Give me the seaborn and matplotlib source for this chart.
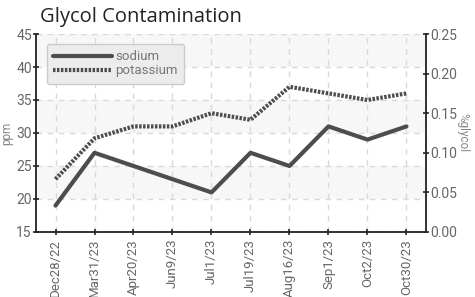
import matplotlib
matplotlib.use("Agg")
import matplotlib.pyplot as plt
import seaborn as sns
import pandas as pd
import numpy as np

dates = ["Dec28/22", "Mar31/23", "Apr20/23", "Jun9/23", "Jul1/23", "Jul19/23",
         "Aug16/23", "Sep1/23", "Oct2/23", "Oct30/23"]
sodium = [19, 27, 25, 23, 21, 27, 25, 31, 29, 31]
potassium = [23, 29.2, 31, 31, 33, 32, 37, 36, 35, 36]
left_ticks = [15, 20, 25, 30, 35, 40, 45]
right_ticks = [0.00, 0.05, 0.10, 0.15, 0.20, 0.25]

sns.set_style("white")
plt.rcParams['font.family'] = ['Roboto', 'DejaVu Sans']

df = pd.DataFrame({"x": np.arange(len(dates)), "sodium": sodium, "potassium": potassium})

fig = plt.figure(figsize=(4.75, 2.97), dpi=100)
ax = fig.add_axes([0.0758, 0.2189, 0.821, 0.6666])

# background bands
for i, (lo, hi) in enumerate(zip(left_ticks[:-1], left_ticks[1:])):
    if (len(left_ticks) - 2 - i) % 2 == 0:
        ax.axhspan(lo, hi, color="#f7f7f7", zorder=0, lw=0)

sns.lineplot(data=df, x="x", y="sodium", ax=ax, color="#4d4d4d", lw=3,
             label="sodium", zorder=3)
sns.lineplot(data=df, x="x", y="potassium", ax=ax, color="#4d4d4d", lw=3,
             linestyle=(0, (0.6, 0.35)), label="potassium", zorder=3)

ax.set_xlim(-0.5, len(dates) - 0.5)
ax.set_ylim(15, 45)
ax.set_yticks(left_ticks)
ax.set_xticks(df["x"])
ax.set_xticklabels(dates, rotation=90, fontsize=9.5, color="#666666")
ax.tick_params(axis="y", labelsize=10, labelcolor="#666666", length=4, width=1.2,
               direction="inout", left=True, pad=1)
ax.tick_params(axis="x", length=4, width=1.2, direction="inout", bottom=True, pad=3)
ax.grid(True, color="#d9d9d9", linestyle=(0, (4, 4)), lw=1)
ax.set_axisbelow(True)
ax.set_xlabel("")
ax.set_ylabel("ppm", fontsize=8.5, color="#888888", labelpad=2)
for s in ["top", "right"]:
    ax.spines[s].set_visible(False)
for s in ["left", "bottom"]:
    ax.spines[s].set_color("#222222")
    ax.spines[s].set_linewidth(1.3)

ax2 = ax.twinx()
ax2.set_ylim(0, 0.25)
ax2.set_yticks(right_ticks)
ax2.set_yticklabels([f"{t:.2f}" for t in right_ticks])
ax2.tick_params(axis="y", labelsize=10, labelcolor="#666666", length=4, width=1.2,
                direction="inout", right=True, pad=1)
ax2.set_ylabel("%glycol", rotation=270, fontsize=8.5, color="#888888", labelpad=9)
for s in ["top", "left", "bottom"]:
    ax2.spines[s].set_visible(False)
ax2.spines["right"].set_color("#222222")
ax2.spines["right"].set_linewidth(1.3)

leg = ax.legend(loc="upper left", bbox_to_anchor=(0.01, 0.985), fontsize=9.5,
                frameon=True, fancybox=True, handlelength=4.5, handletextpad=0.2,
                labelspacing=0.1, borderpad=0.5, labelcolor="#777777")
leg.get_frame().set_facecolor("#ececec")
leg.get_frame().set_edgecolor("#cccccc")
leg.get_frame().set_alpha(1)

fig.text(0.084, 0.925, "Glycol Contamination", fontsize=14.5, color="#222222",
         family=["Open Sans", "DejaVu Sans"])

fig.savefig("out.png", dpi=100)
